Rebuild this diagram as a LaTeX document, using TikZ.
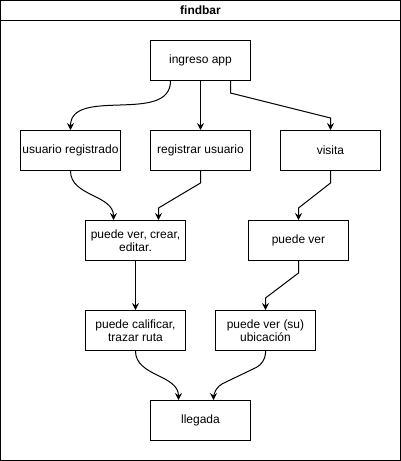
\documentclass[tikz,border=0pt]{standalone}
\usepackage{fontspec}
\setmainfont{Liberation Sans}
\usetikzlibrary{calc,arrows.meta}
\tikzset{
	box/.style={draw, line width=1pt, minimum width=100pt, minimum height=40pt, inner sep=0pt, align=center, font=\fontsize{12}{13.5}\selectfont},
	flow/.style={line width=1pt, -{Stealth[length=7pt,width=7pt,inset=2.5pt]}}
}

\begin{document}
\begin{tikzpicture}[x=1pt, y=-1pt]
		%%%%% START %%%%%
		\useasboundingbox (-0.5, -0.5) rectangle (400.5, 460.5);
		
		\draw[line width=1pt] (0, 0) rectangle (400, 460);
		\draw[line width=1pt] (0, 20) -- (400, 20);
		\node[font=\fontsize{12}{14}\selectfont\bfseries] (title) at (200, 10) {findbar};
		
		\node[box] (ingreso) at (200, 60) {ingreso app};
		
		\node[box] (usuario) at (70, 150) {usuario registrado};
		\node[box] (registrar) at (200, 150) {registrar usuario};
		\node[box] (visita) at (330, 150) {visita};
		
		\node[box] (crear) at (135, 240) {puede ver, crear,\\editar.};
		\node[box] (ver) at (298, 240) {puede ver};
		
		\node[box] (calificar) at (135, 330) {puede calificar,\\trazar ruta};
		\node[box] (ubicacion) at (265, 330) {puede ver (su)\\ubicación};
		
		\node[box] (llegada) at (200, 420) {llegada};
		
		% from ingreso app
		\draw[flow] ($(ingreso.south)+(-30, 0)$) to[out=-90, in=90] (usuario.north);
		\draw[flow] (ingreso) -- (registrar);
		\draw[flow] ($(ingreso.south)+(30, 0)$) -- ++(0, 12) -- ($(visita.north)+(0, -12)$) -- (visita.north);
		
		% second row
		\draw[flow] (usuario.south) to[out=-90, in=90] ($(crear.north)+(-22, 0)$);
		\draw[flow] (registrar.south) -- ++(0, 12) -- ($(crear.north)+(23, -12)$) -- ($(crear.north)+(23, 0)$);
		\draw[flow] (visita.south) -- ++(0, 12) -- ($(ver.north)+(0, -12)$) -- (ver.north);
		
		% third row
		\draw[flow] (crear) -- (calificar);
		\draw[flow] (ver.south) -- ++(0, 12) -- ($(ubicacion.north)+(0, -12)$) -- (ubicacion.north);
		
		% to llegada
		\draw[flow] (calificar.south) to[out=-90, in=90] ($(llegada.north)+(-22, 0)$);
		\draw[flow, rounded corners=10pt] (ubicacion.south) -- ++(0, 12) -- ($(llegada.north)+(13, -12)$) -- ($(llegada.north)+(13, 0)$);
		
		%%%%% END %%%%%
	\end{tikzpicture}
\end{document}
